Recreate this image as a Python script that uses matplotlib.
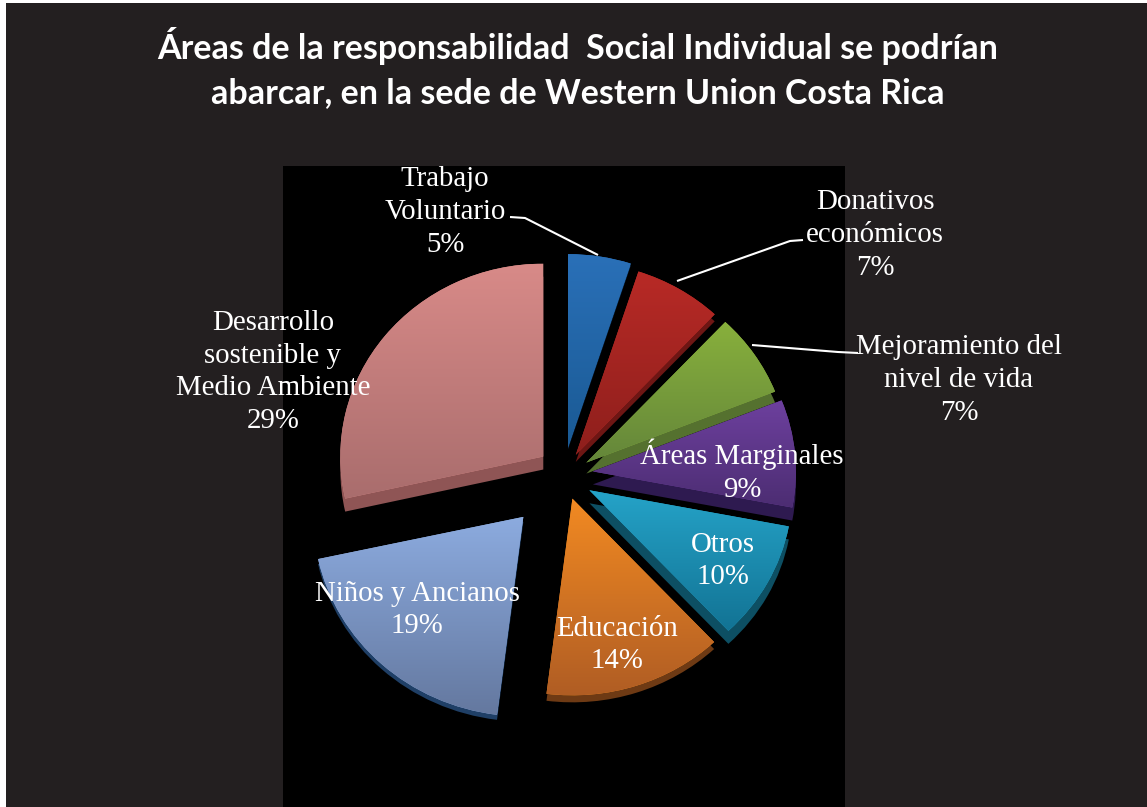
import numpy as np
import matplotlib
matplotlib.use("Agg")
import matplotlib.pyplot as plt
from matplotlib.colors import to_rgb
from matplotlib.patches import Rectangle

W, H = 1147, 807
TITLE = "Áreas de la responsabilidad  Social Individual se podrían\nabarcar, en la sede de Western Union Costa Rica"

categories = ["Trabajo\nVoluntario", "Donativos\neconómicos", "Mejoramiento del\nnivel de vida",
              "Áreas Marginales", "Otros", "Educación", "Niños y Ancianos",
              "Desarrollo\nsostenible y\nMedio Ambiente"]
values = [5, 7, 7, 9, 10, 14, 19, 29]

# styling
explode = [32, 27, 27, 29, 29, 24, 63, 30]
radii = [203, 203, 203, 203, 203, 207, 210, 203]
nudges = [(-1, 0), (-2, 0), (0, 0), (0, 3), (0, 0), (1, 0), (1, 5), (3, 3)]
edge_tilt = [(0, 0), (0, 0), (0, 0), (0, 0), (0, 0), (0, 0), (-2.2, 0), (0, -1.8)]  # perspective skew of slice edges, degrees
depths = [2, 7, 11, 13, 13, 7, 5, 13]
top_colors = ["#2a70b8", "#b82a26", "#88b03c", "#6d409e", "#25a3c8", "#f28a22", "#8cabdf", "#d88a88"]
bottom_colors = ["#1a5a94", "#8e1f1c", "#64863a", "#4c2d72", "#127394", "#b05d24", "#64789f", "#a96d6d"]
side_colors = ["#123f6c", "#6e1614", "#55712f", "#2e1a50", "#0d4f63", "#6e3a14", "#1f3f66", "#8f5555"]
label_xy = [(445, 212), (875, 235), (959, 380), (742, 471), (723, 561), (617, 645), (417, 610), (273, 372)]
YS = 0.95  # vertical squash of the tilted pie


def py(y):
    return (H - y) / YS


fig = plt.figure(figsize=(W / 100, H / 100), dpi=100, facecolor="white")

ax = fig.add_axes([0, 0, 1, 1])
xlim, ylim = (0, W), (0, H / YS)

sides, _ = ax.pie(values, explode=explode, center=(564, py(477)), radius=203,
                  startangle=90, counterclock=False, colors=side_colors,
                  wedgeprops=dict(linewidth=0), frame=True)
tops, _ = ax.pie(values, explode=explode, center=(564, py(477)), radius=203,
                 startangle=90, counterclock=False, colors=top_colors,
                 wedgeprops=dict(linewidth=0), frame=True)
ax.set_aspect("auto")
ax.set_xlim(*xlim)
ax.set_ylim(*ylim)
ax.axis("off")

ax.add_patch(Rectangle((6, 0), W - 6, py(3), facecolor="#231f20", edgecolor="none", zorder=0))
ax.add_patch(Rectangle((283, 0), 845 - 283, py(166), facecolor="#000000", edgecolor="none", zorder=0.5))

for s, t, d, r, (nx, ny), (a1, a2), c0, c1 in zip(sides, tops, depths, radii, nudges, edge_tilt,
                                                  top_colors, bottom_colors):
    t.set_center((t.center[0] + nx, t.center[1] + ny / YS))
    for w in (t, s):
        w.set_radius(r)
        w.set_theta1(w.theta1 + a1)
        w.set_theta2(w.theta2 + a2)
    s.set_center((t.center[0], t.center[1] - d / YS))
    s.set_zorder(2)
    t.set_zorder(3)
    fig.canvas.draw()
    bb = t.get_window_extent().transformed(ax.transData.inverted())
    ramp = np.linspace(0, 1, 256)[:, None, None]
    img = (1 - ramp) * np.array(to_rgb(c0))[None, None, :] + ramp * np.array(to_rgb(c1))[None, None, :]
    im = ax.imshow(img, extent=(bb.x0, bb.x1, bb.y0, bb.y1), origin="upper",
                   aspect="auto", zorder=4, interpolation="bilinear")
    im.set_clip_path(t)
ax.set_xlim(*xlim)
ax.set_ylim(*ylim)

ov = fig.add_axes([0, 0, 1, 1], facecolor="none")
ov.set_xlim(0, W)
ov.set_ylim(H, 0)
ov.axis("off")

ov.text(578, 68, TITLE, ha="center", va="center", color="white", fontsize=24.5,
        fontfamily="Lato", fontweight="bold", linespacing=1.44)

for name, val, (x, y) in zip(categories, values, label_xy):
    ov.text(x, y, f"{name}\n{val}%", ha="center", va="center", color="white",
            fontsize=20.8, fontfamily="Liberation Serif", linespacing=1.33)

leaders = [([510, 525, 598], [217, 218, 255]),
           ([803, 790, 677], [240, 241, 281]),
           ([858, 838, 752], [353, 352, 345])]
for lx, ly in leaders:
    ov.plot(lx, ly, color="white", lw=1.5, solid_capstyle="butt")

fig.savefig("out.png", dpi=100, facecolor="white")
